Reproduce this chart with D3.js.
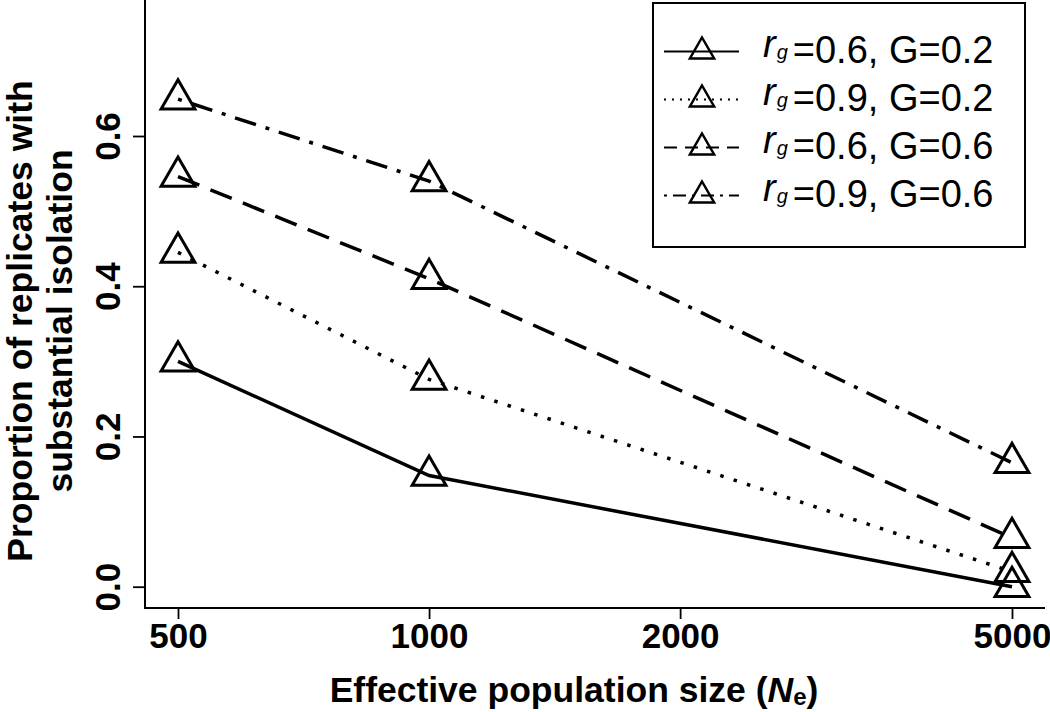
<!DOCTYPE html>
<html>
<head>
<meta charset="utf-8">
<script src="https://cdn.jsdelivr.net/npm/d3@7"></script>
<style>
  html, body { margin: 0; padding: 0; background: #fff; }
  svg { display: block; font-family: "Liberation Sans", Arial, Helvetica, sans-serif; }
</style>
</head>
<body>
<svg id="chart" width="1050" height="712"></svg>
<script>
// ---- data ----
const Ne = [500, 1000, 5000];
const rg06G02 = [0.30, 0.148, 0.0];
const rg09G02 = [0.445, 0.276, 0.02];
const rg06G06 = [0.546, 0.41, 0.065];
const rg09G06 = [0.649, 0.54, 0.165];
const seriesRg = ["0.6", "0.9", "0.6", "0.9"];
const seriesG = ["0.2", "0.2", "0.6", "0.6"];
const xTicks = [500, 1000, 2000, 5000];
const yTicks = [0, 0.2, 0.4, 0.6];

const seriesValues = [rg06G02, rg09G02, rg06G06, rg09G06];
const dashes = [null, "3.5,10.5", "23,12", "4,10,22,10"];
const legendDashes = [null, "2,6", "13,8", "3,6,13,6"];

const svg = d3.select("#chart");
const font = '"Liberation Sans", Arial, Helvetica, sans-serif';

// scales
const x = d3.scaleLog().domain([500, 5000]).range([178, 1012]);
const y = d3.scaleLinear().domain([0, 0.6]).range([586.7, 136]);

// box (L-shaped)
svg.append("path")
  .attr("d", "M145,0 V608 H1045")
  .attr("fill", "none").attr("stroke", "#000").attr("stroke-width", 2);

// y axis
const gy = svg.append("g").attr("transform", "translate(145,0)")
  .call(d3.axisLeft(y).tickValues(yTicks).tickSize(12).tickFormat(d3.format(".1f")));
gy.select(".domain").remove();
gy.selectAll(".tick line").attr("stroke", "#000").attr("stroke-width", 1.8);
gy.selectAll(".tick text")
  .attr("x", null).attr("dy", null).attr("y", null)
  .attr("transform", "translate(-25,0) rotate(-90)")
  .attr("text-anchor", "middle")
  .attr("fill", "#000")
  .style("font-family", font).style("font-size", "35px").style("font-weight", "bold");

// x axis
const gx = svg.append("g").attr("transform", "translate(0,608)")
  .call(d3.axisBottom(x).tickValues(xTicks).tickSize(11).tickFormat(d3.format("d")));
gx.select(".domain").remove();
gx.selectAll(".tick line").attr("stroke", "#000").attr("stroke-width", 1.8);
gx.selectAll(".tick text")
  .attr("y", 40).attr("dy", null)
  .attr("text-anchor", "middle")
  .attr("fill", "#000")
  .style("font-family", font).style("font-size", "35px").style("font-weight", "bold");

// axis titles
const xt = svg.append("text")
  .attr("x", 574).attr("y", 702).attr("text-anchor", "middle")
  .style("font-size", "35.5px").style("font-weight", "bold");
xt.append("tspan").text("Effective population size (");
xt.append("tspan").style("font-style", "italic").text("N");
xt.append("tspan").style("font-size", "24px").attr("dy", 3).text("e");
xt.append("tspan").attr("dy", -3).text(")");

svg.append("text")
  .attr("transform", "translate(32,321) rotate(-90)")
  .attr("text-anchor", "middle")
  .style("font-size", "35.5px").style("font-weight", "bold")
  .text("Proportion of replicates with");
svg.append("text")
  .attr("transform", "translate(72,321) rotate(-90)")
  .attr("text-anchor", "middle")
  .style("font-size", "35.5px").style("font-weight", "bold")
  .text("substantial isolation");

// lines
const line = d3.line().x((d, i) => x(Ne[i])).y(d => y(d));
const tri = r => d3.symbol().type(d3.symbolTriangle).size(3 * Math.sqrt(3) * r * r / 4)();

seriesValues.forEach((vals, k) => {
  svg.append("path")
    .datum(vals)
    .attr("d", line)
    .attr("fill", "none")
    .attr("stroke", "#000")
    .attr("stroke-width", 3.5)
    .attr("stroke-dasharray", dashes[k]);
  svg.selectAll(null)
    .data(vals)
    .enter().append("path")
    .attr("d", tri(19.5))
    .attr("transform", (d, i) => `translate(${x(Ne[i])},${y(d)})`)
    .attr("fill", "none")
    .attr("stroke", "#000")
    .attr("stroke-width", 3);
});

// legend
svg.append("rect")
  .attr("x", 653).attr("y", 3).attr("width", 372).attr("height", 244)
  .attr("fill", "#fff").attr("stroke", "#000").attr("stroke-width", 2);

const legY = d3.scaleLinear().domain([0, 3]).range([63, 207]);
seriesValues.forEach((vals, k) => {
  const base = legY(k);
  const ly = base - 11.5;
  svg.append("line")
    .attr("x1", 664).attr("x2", 739).attr("y1", ly).attr("y2", ly)
    .attr("stroke", "#000").attr("stroke-width", 2)
    .attr("stroke-dasharray", legendDashes[k]);
  svg.append("path")
    .attr("d", tri(14))
    .attr("transform", `translate(702,${ly})`)
    .attr("fill", "none").attr("stroke", "#000").attr("stroke-width", 2.5);
  const t = svg.append("text").attr("x", 763).attr("y", base)
    .style("font-size", "38px");
  t.append("tspan").style("font-style", "italic").attr("dy", -6).text("r");
  t.append("tspan").style("font-style", "italic").style("font-size", "20px").attr("dy", 2).attr("dx", 1).text("g");
  t.append("tspan").attr("dy", 4).attr("dx", 5).text(`=${seriesRg[k]}, G=${seriesG[k]}`);
});
</script>
</body>
</html>
